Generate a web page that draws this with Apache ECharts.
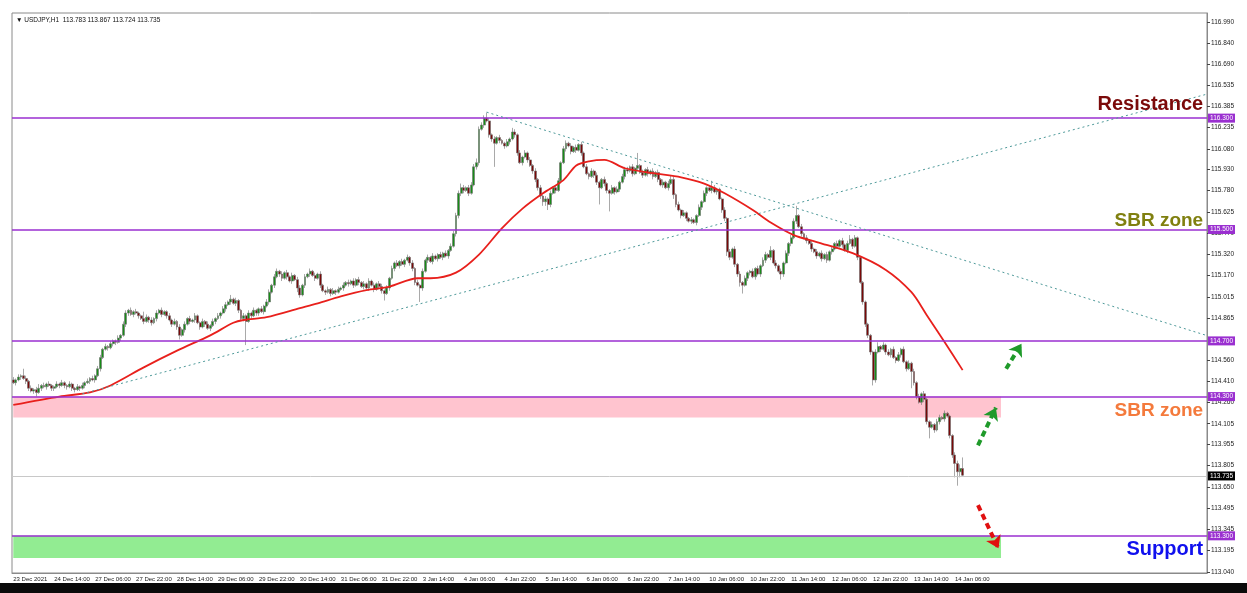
<!DOCTYPE html>
<html><head><meta charset="utf-8">
<script src="https://cdn.jsdelivr.net/npm/echarts@6/dist/echarts.min.js"></script>
<style>html,body{margin:0;padding:0;background:#fff}#c{width:1247px;height:593px}</style>
</head><body><div id="c"></div>
<script>
const tickLabels = ['23 Dec 2021','24 Dec 14:00','27 Dec 06:00','27 Dec 22:00','28 Dec 14:00','29 Dec 06:00','29 Dec 22:00','30 Dec 14:00','31 Dec 06:00','31 Dec 22:00','3 Jan 14:00','4 Jan 06:00','4 Jan 22:00','5 Jan 14:00','6 Jan 06:00','6 Jan 22:00','7 Jan 14:00','10 Jan 06:00','10 Jan 22:00','11 Jan 14:00','12 Jan 06:00','12 Jan 22:00','13 Jan 14:00','14 Jan 06:00'];
const barsPerLabel = 16;
const totalSlots = 467;
const firstOpen = 114.42;
const closes = [
114.40,114.42,114.44,114.45,114.43,114.41,114.36,114.34,114.35,114.33,114.36,114.38,114.37,114.39,114.38,114.36,
114.37,114.39,114.38,114.40,114.38,114.37,114.39,114.36,114.35,114.37,114.36,114.38,114.40,114.41,114.43,114.42,
114.45,114.50,114.58,114.64,114.66,114.65,114.68,114.70,114.69,114.72,114.74,114.82,114.90,114.92,114.89,114.91,
114.90,114.88,114.86,114.84,114.87,114.85,114.83,114.86,114.90,114.92,114.89,114.91,114.88,114.85,114.82,114.84,
114.80,114.74,114.78,114.82,114.86,114.84,114.85,114.88,114.83,114.80,114.84,114.82,114.79,114.81,114.84,114.86,
114.88,114.90,114.93,114.96,114.98,115.00,114.97,114.99,114.92,114.86,114.88,114.84,114.90,114.88,114.92,114.90,
114.93,114.91,114.95,114.98,115.05,115.10,115.16,115.20,115.18,115.15,115.19,115.16,115.13,115.17,115.14,115.08,
115.03,115.10,115.16,115.18,115.20,115.17,115.15,115.18,115.10,115.06,115.05,115.07,115.04,115.06,115.05,115.07,
115.08,115.10,115.12,115.11,115.13,115.10,115.14,115.12,115.09,115.11,115.08,115.13,115.10,115.07,115.11,115.09,
115.06,115.04,115.08,115.15,115.22,115.26,115.24,115.27,115.25,115.28,115.30,115.26,115.22,115.12,115.10,115.08,
115.20,115.28,115.30,115.27,115.31,115.29,115.32,115.30,115.33,115.31,115.35,115.38,115.47,115.60,115.76,115.80,
115.78,115.80,115.76,115.82,115.95,115.98,116.22,116.25,116.30,116.28,116.18,116.15,116.12,116.16,116.14,116.12,
116.10,116.13,116.15,116.20,116.18,116.05,115.98,116.02,116.05,116.00,115.96,115.92,115.86,115.80,115.74,115.70,
115.72,115.68,115.76,115.80,115.78,115.85,115.98,116.08,116.12,116.10,116.06,116.09,116.07,116.11,116.05,115.95,
115.90,115.88,115.92,115.89,115.84,115.80,115.86,115.83,115.78,115.76,115.80,115.77,115.79,115.84,115.88,115.93,
115.92,115.95,115.90,115.94,115.96,115.91,115.89,115.93,115.90,115.92,115.88,115.91,115.86,115.82,115.84,115.80,
115.83,115.86,115.75,115.68,115.64,115.60,115.62,115.58,115.56,115.57,115.55,115.60,115.66,115.70,115.76,115.80,
115.78,115.80,115.77,115.79,115.72,115.64,115.58,115.34,115.30,115.36,115.25,115.18,115.12,115.10,115.15,115.19,
115.20,115.16,115.22,115.18,115.24,115.28,115.32,115.30,115.35,115.26,115.24,115.20,115.18,115.26,115.33,115.40,
115.44,115.56,115.60,115.52,115.47,115.44,115.42,115.40,115.36,115.34,115.31,115.33,115.29,115.32,115.28,115.34,
115.36,115.40,115.38,115.42,115.39,115.35,115.40,115.43,115.38,115.44,115.30,115.12,114.98,114.82,114.74,114.62,
114.42,114.62,114.66,114.64,114.67,114.62,114.60,114.64,114.58,114.56,114.60,114.64,114.55,114.50,114.54,114.48,
114.40,114.30,114.26,114.32,114.28,114.12,114.08,114.10,114.06,114.12,114.15,114.14,114.18,114.16,114.02,113.88,
113.82,113.76,113.783,113.735];
// upper / lower wick lengths in hundredths of a yen
const wickUp = [
2,1,2,1,5,2,1,2,1,2,3,1,2,1,2,1,
1,2,1,2,1,1,2,1,1,2,1,2,1,2,1,2,
1,2,2,1,2,1,2,1,1,2,1,2,2,1,2,1,
2,1,1,5,2,1,2,1,2,1,2,1,1,2,1,2,
1,2,1,2,1,2,1,2,1,1,2,1,2,1,2,1,
2,1,2,2,1,3,1,2,1,1,2,1,2,1,2,1,
1,2,1,2,2,1,2,2,1,2,1,2,1,2,1,2,
2,1,2,1,2,1,2,1,2,1,1,2,1,2,1,2,
1,2,1,2,1,2,1,2,1,2,1,2,1,2,1,2,
2,1,2,1,2,1,2,1,2,1,2,1,2,1,2,1,
2,1,2,1,2,1,1,2,1,2,1,2,2,2,2,3,
2,1,2,2,2,3,2,2,2,4,2,1,2,1,2,1,
1,2,1,3,2,1,2,1,2,1,2,1,2,1,2,1,
2,1,2,1,2,2,1,2,2,1,2,1,2,1,2,1,
2,1,2,1,2,1,1,2,1,1,2,1,2,1,2,2,
2,1,2,1,9,1,2,1,2,1,2,1,2,1,2,1,
2,3,2,1,2,1,2,1,1,2,1,1,2,1,2,1,
2,5,2,1,1,1,2,1,2,1,2,1,2,1,2,1,
1,2,1,2,1,2,2,1,3,1,2,1,2,1,2,1,
2,2,7,1,2,1,2,1,2,1,2,1,2,1,2,1,
2,1,2,1,2,1,2,3,1,2,1,1,1,1,1,1,
1,2,3,1,2,1,2,1,2,1,2,1,2,1,2,1,
2,1,2,1,2,1,1,2,1,2,2,1,2,1,1,1,
2,2,3,8];
const wickDn = [
1,2,1,2,1,2,2,1,2,3,1,2,1,2,1,2,
2,1,2,1,2,2,1,2,2,1,2,1,2,1,2,1,
2,1,2,1,1,2,1,2,2,1,2,1,2,2,1,2,
1,2,1,2,1,2,2,1,2,1,2,1,2,1,2,1,
2,3,1,2,1,2,1,2,1,2,1,2,1,2,1,2,
1,2,1,2,1,2,1,2,2,1,2,17,1,2,1,2,
2,1,2,1,2,1,2,1,2,2,1,2,1,2,1,3,
2,1,2,1,2,1,2,1,2,1,2,1,2,1,2,1,
1,2,1,2,1,2,1,2,1,2,1,2,1,2,1,2,
2,5,1,2,1,2,1,2,1,2,1,2,2,2,1,10,
2,1,2,1,2,1,2,1,2,1,2,1,1,2,2,2,
2,1,2,1,1,2,2,1,2,1,2,2,17,1,2,1,
2,1,2,1,2,2,1,2,1,2,1,2,2,2,2,3,
3,4,2,1,2,1,2,1,2,1,2,1,2,1,2,1,
1,2,1,2,2,12,1,2,2,13,1,2,1,2,1,2,
2,1,2,1,2,1,2,1,2,1,2,1,2,1,2,1,
2,1,3,2,1,2,1,2,1,2,1,2,1,2,1,2,
1,2,1,2,1,2,2,3,2,1,2,2,3,6,1,2,
2,1,2,1,2,1,2,1,2,1,2,1,4,2,1,2,
2,1,2,1,2,1,2,1,2,1,2,1,2,1,2,1,
2,1,2,1,2,1,2,1,2,1,2,1,2,2,2,2,
4,2,1,2,1,2,1,2,1,2,1,2,1,2,1,12,
2,2,1,2,2,2,8,1,2,1,2,1,2,1,2,2,
10,10,4,1];
// moving average: [bar index, value]
const maPoints = [[0,114.24],[18,114.30],[30,114.33],[38,114.38],[51,114.51],[64,114.63],[77,114.74],[86,114.83],[90,114.85],[99,114.87],[112,114.935],[119,114.97],[128,115.02],[138,115.065],[147,115.09],[158,115.15],[163,115.15],[173,115.19],[182,115.32],[191,115.51],[199,115.65],[207,115.76],[215,115.855],[220,115.96],[225,115.99],[231,116.00],[239,115.94],[250,115.905],[261,115.875],[270,115.83],[278,115.76],[289,115.64],[296,115.55],[305,115.46],[314,115.41],[328,115.33],[341,115.21],[351,115.05],[357,114.885],[364,114.69],[371,114.49]];
const yTicks = [116.990,116.840,116.690,116.535,116.385,116.235,116.080,115.930,115.780,115.625,115.470,115.320,115.170,115.015,114.865,114.560,114.410,114.260,114.105,113.955,113.805,113.650,113.495,113.345,113.195,113.040];
const levels = [116.300, 115.500, 114.700, 114.300, 113.300];
const lastPrice = 113.735;
const headerText = '\u25BC USDJPY,H1  113.783 113.867 113.724 113.735';
const sbrZone = [114.30, 114.15];
const supportZone = [113.30, 113.14];
const zoneEndBar = 386;
const trendUp = [[27,114.32],[466,116.47]];
const trendDown = [[185,116.343],[466,114.741]];
const greenArrows = [[[388,114.50],[394,114.68]],[[377,113.95],[384,114.22]]];
const redArrow = [[377,113.52],[385,113.21]];
const annotations = [
  {text:'Resistance', price:116.40, color:'#7b0a0a', size:20},
  {text:'SBR zone', price:115.56, color:'#808010', size:19},
  {text:'SBR zone', price:114.20, color:'#f47a3c', size:19},
  {text:'Support', price:113.20, color:'#1010ee', size:20}
];
const annotationBar = 465;

const cats = Array.from({length: totalSlots}, (_, i) => i);
const candles = closes.map((c, i) => {
  const o = i === 0 ? firstOpen : closes[i-1];
  const h = Math.max(o, c) + (wickUp[i] || 0) / 100;
  const l = Math.min(o, c) - (wickDn[i] || 0) / 100;
  return [o, c, l, h];
});
const lastTickIdx = (tickLabels.length - 1) * barsPerLabel;
const showTick = (idx) => idx % barsPerLabel === 0 && idx <= lastTickIdx;
const PURPLE = '#9a2fd0';

const chart = echarts.init(document.getElementById('c'), null, {renderer:'canvas'});
chart.setOption({
  animation: false,
  backgroundColor: '#ffffff',
  grid: {left: 12, right: 40, top: 13, bottom: 20, show: true, borderColor: '#8a8a8a', borderWidth: 1},
  xAxis: {
    type: 'category', data: cats, boundaryGap: true,
    axisLine: {lineStyle: {color: '#8a8a8a'}},
    axisTick: {interval: (i) => showTick(i), alignWithLabel: true, length: 3, lineStyle: {color: '#444'}},
    axisLabel: {interval: (i) => showTick(i), align: 'left', margin: 3, fontSize: 6, color: '#222', fontFamily: 'Liberation Sans',
      formatter: (v, idx) => showTick(idx) ? tickLabels[idx / barsPerLabel] : ''},
    splitLine: {show: false}
  },
  yAxis: {
    type: 'value', position: 'right', min: 113.033, max: 117.055, scale: true,
    axisLine: {show: true, lineStyle: {color: '#8a8a8a'}},
    axisTick: {show: true, customValues: yTicks, length: 3, lineStyle: {color: '#444'}},
    axisLabel: {customValues: yTicks, fontSize: 6.5, color: '#222', margin: 4, fontFamily: 'Liberation Sans', formatter: (v) => v.toFixed(3)},
    splitLine: {show: false}
  },
  graphic: [
    {type: 'text', left: 16, top: 17, style: {text: headerText, font: '6.5px "Liberation Sans"', fill: '#111'}},
    {type: 'rect', left: 0, top: 583, shape: {width: 1247, height: 10}, style: {fill: '#0a0a0a'}}
  ],
  series: [
    {
      type: 'line', data: [], z: 1, silent: true,
      markArea: {silent: true, data: [
        [{coord: [0, sbrZone[0]], itemStyle: {color: '#ffc4cf'}}, {coord: [zoneEndBar, sbrZone[1]]}],
        [{coord: [0, supportZone[0]], itemStyle: {color: '#92ec92'}}, {coord: [zoneEndBar, supportZone[1]]}]
      ]}
    },
    {
      type: 'candlestick', data: candles, z: 2, barWidth: 2.4,
      itemStyle: {color: '#178c17', color0: '#7a0808', borderColor: '#6f6f6f', borderColor0: '#6f6f6f', borderWidth: 0.6},
      markLine: {
        silent: true, symbol: ['none', 'none'], animation: false,
        data: levels.map(v => ({
          yAxis: v,
          lineStyle: {color: PURPLE, width: 1.6, type: 'solid'},
          label: {show: true, position: 'end', distance: 1, formatter: v.toFixed(3), color: '#fff', backgroundColor: PURPLE, padding: [1, 2, 1, 2], fontSize: 6.5, fontFamily: 'Liberation Sans'}
        })).concat([{
          yAxis: lastPrice,
          lineStyle: {color: '#c8c8c8', width: 1, type: 'solid'},
          label: {show: true, position: 'end', distance: 1, formatter: lastPrice.toFixed(3), color: '#fff', backgroundColor: '#000', padding: [1, 2, 1, 2], fontSize: 6.5, fontFamily: 'Liberation Sans'}
        }])
      }
    },
    {
      type: 'line', data: maPoints, z: 3, smooth: 0.3, showSymbol: false, symbol: 'none',
      lineStyle: {color: '#e8201c', width: 1.8}, silent: true
    },
    {
      type: 'line', data: [], z: 4, silent: true,
      markLine: {
        silent: true, animation: false, symbol: ['none', 'none'],
        label: {show: false},
        data: [
          [{coord: trendUp[0], lineStyle: {color: '#4f9a9a', width: 1, type: [2, 3]}}, {coord: trendUp[1]}],
          [{coord: trendDown[0], lineStyle: {color: '#4f9a9a', width: 1, type: [2, 3]}}, {coord: trendDown[1]}]
        ].concat(greenArrows.map(a => [
          {coord: a[0], symbol: 'none', lineStyle: {color: '#1f9a2a', width: 4, type: [6, 4]}},
          {coord: a[1], symbol: 'arrow', symbolSize: 12}
        ])).concat([[
          {coord: redArrow[0], symbol: 'none', lineStyle: {color: '#e01010', width: 4, type: [6, 4]}},
          {coord: redArrow[1], symbol: 'arrow', symbolSize: 12}
        ]])
      },
      markPoint: {
        silent: true, symbol: 'circle', symbolSize: 0,
        data: annotations.map(a => ({
          coord: [annotationBar, a.price],
          label: {show: true, position: 'left', distance: 0, formatter: a.text, color: a.color, fontSize: a.size, fontWeight: 'bold', fontFamily: 'Liberation Sans'}
        }))
      }
    }
  ]
});
</script></body></html>
